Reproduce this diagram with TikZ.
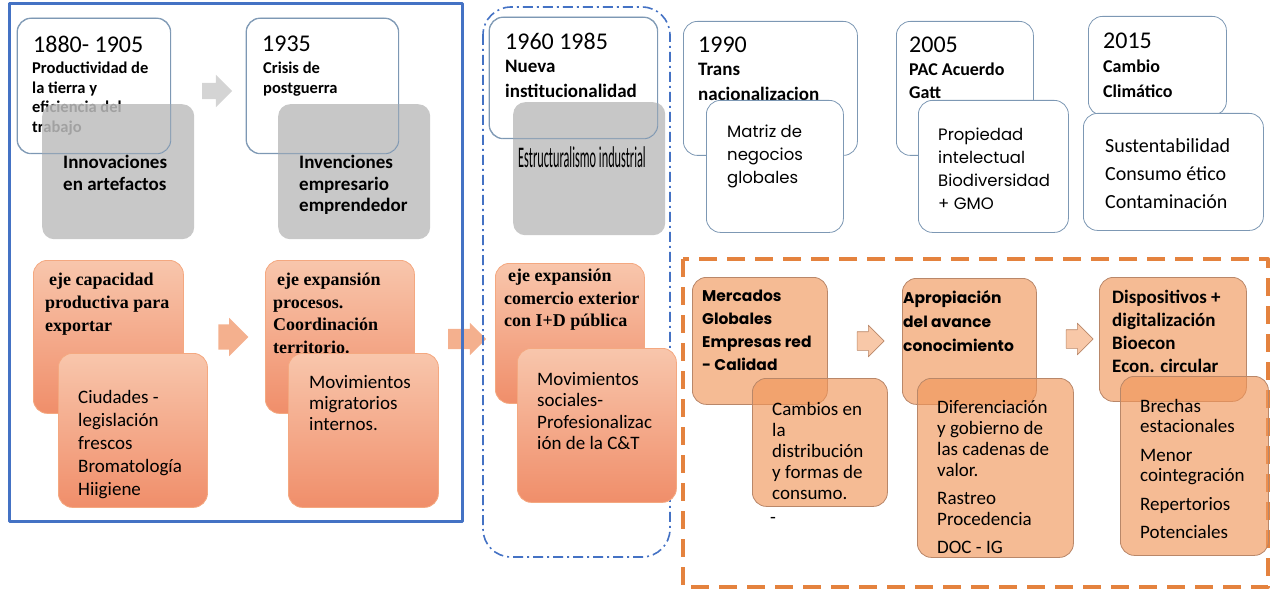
\documentclass[tikz,border=0pt]{standalone}
\usepackage{fontspec}
\usepackage{graphicx}
\setmainfont{Carlito}
\newfontfamily\quickfont{Poppins}
\newfontfamily\camfont{Liberation Serif}
\usetikzlibrary{shapes.arrows}
\definecolor{frameblue}{RGB}{68,114,196}
\definecolor{boxline}{RGB}{125,152,180}
\definecolor{greyfill}{RGB}{190,190,190}
\definecolor{arrowgrey}{RGB}{212,212,212}
\definecolor{salmontop}{RGB}{248,198,172}
\definecolor{salmonbot}{RGB}{240,142,106}
\definecolor{salmonline}{RGB}{244,168,128}
\definecolor{salmonarrow}{RGB}{244,176,142}
\definecolor{orangefill}{RGB}{240,150,90}
\definecolor{orangeline}{RGB}{185,135,105}
\definecolor{orangedash}{RGB}{228,130,62}
\definecolor{arrowpeach}{RGB}{248,200,168}
\newcommand\setfs[2]{\fontsize{#1}{#2}\selectfont}
\tikzset{
  box/.style={anchor=north west, inner sep=0pt, rounded corners=14pt},
  wbox/.style={box, draw=boxline, fill=white, line width=0.8pt},
  wline/.style={boxline, line width=0.8pt, rounded corners=14pt},
  gbox/.style={box, fill=greyfill, fill opacity=0.85, rounded corners=12pt},
  sbox/.style={box, draw=salmonline, top color=salmontop, bottom color=salmonbot, line width=0.8pt},
  obox/.style={box, draw=orangeline, fill=orangefill, fill opacity=0.65, line width=0.8pt},
  txt/.style={anchor=north west, inner sep=0pt, align=left, text=black},
  yeartxt/.style={txt, font=\setfs{24}{28}},
  blockarrow/.style={single arrow, inner xsep=0pt, single arrow head indent=0pt},
}
\begin{document}
\begin{tikzpicture}[x=1pt, y=-1pt, line join=round]
\useasboundingbox (0,0) rectangle (1275,591);
% first period: 1880 - 1935
\node[wbox, minimum width=153pt, minimum height=135pt] (A1) at (17,18) {};
\node[yeartxt] (A1y) at (33,36) {1880- 1905};
\node[txt, font={\setfs{16.5}{19.5}\bfseries}] (A1s) at (32,62) {Productividad de\\la tierra y\\eficiencia del\\trabajo};
\node[gbox, minimum width=152pt, minimum height=135pt] (G1) at (42,104) {};
\draw[wline] (A1.north west) rectangle (A1.south east);
\node[txt, font={\setfs{19}{22}\bfseries}] (G1t) at (63,155) {Innovaciones\\en artefactos};
\node[blockarrow, fill=arrowgrey, inner ysep=8pt, single arrow head extend=8pt, minimum height=30pt] (ar1) at (213,91) {};
\node[wbox, minimum width=152pt, minimum height=135pt] (A2) at (246,18) {};
\node[yeartxt] (A2y) at (262,36) {1935};
\node[txt, font={\setfs{16.5}{19.5}\bfseries}] (A2s) at (263,62) {Crisis de\\postguerra};
\node[gbox, minimum width=152pt, minimum height=135pt] (G2) at (278,104) {};
\draw[wline] (A2.north west) rectangle (A2.south east);
\node[txt, font={\setfs{19}{21.5}\bfseries}] (G2t) at (299,155) {Invenciones\\empresario\\emprendedor};
\node[sbox, minimum width=150pt, minimum height=153pt] (S1) at (33,260) {};
\node[txt, font={\setfs{18}{23}\camfont\bfseries}] (S1t) at (45,273) {\hspace{4pt}eje capacidad\\productiva para\\exportar};
\node[sbox, minimum width=149pt, minimum height=154pt] (S1b) at (58,353) {};
\node[txt, font=\setfs{19}{23}] (S1bt) at (78,390) {Ciudades -\\legislación\\frescos\\Bromatología\\Hiigiene};
\node[blockarrow, fill=salmonarrow, inner ysep=12.5pt, single arrow head extend=6.5pt, minimum height=30pt] (ar2) at (227,337) {};
\node[sbox, minimum width=149pt, minimum height=153pt] (S2) at (265,260) {};
\node[txt, font={\setfs{18}{22.5}\camfont\bfseries}] (S2t) at (273,273) {\hspace{4pt}eje expansión\\procesos.\\Coordinación\\territorio.};
\node[sbox, minimum width=150pt, minimum height=154pt] (S2b) at (288,353) {};
\node[txt, font=\setfs{19}{21}] (S2bt) at (309,375) {Movimientos\\migratorios\\internos.};
\node[blockarrow, fill=salmonarrow, inner ysep=10pt, single arrow head extend=6pt, minimum height=38pt] (ar3) at (462,339) {};
\draw[frameblue, line width=3pt] (9,4) rectangle (462,521);
% second period: 1960 - 1985
\draw[frameblue, line width=1.6pt, rounded corners=28pt, dash pattern=on 10pt off 4pt on 2pt off 4pt] (483,7) rectangle (670,557);
\node[wbox, minimum width=168pt, minimum height=121pt] (A3) at (489,17) {};
\node[yeartxt] (A3y) at (505,33) {1960 1985};
\node[txt, font={\setfs{19}{25}\bfseries}] (A3s) at (505,60) {Nueva\\institucionalidad};
\node[gbox, minimum width=152pt, minimum height=133pt] (G3) at (513,102) {};
\draw[wline] (A3.north west) rectangle (A3.south east);
\node[txt, font=\setfs{30}{32}] (G3t) at (518,146) {\scalebox{0.41}[1]{Estructuralismo industrial}};
\node[sbox, minimum width=149pt, minimum height=140pt] (S3) at (495,263) {};
\node[txt, font={\setfs{18}{22.5}\camfont\bfseries}] (S3t) at (504,269) {\hspace{4pt}eje expansión\\comercio exterior\\con I+D pública};
\node[sbox, minimum width=159pt, minimum height=154pt] (S3b) at (517,348) {};
\node[txt, font=\setfs{19}{21.5}] (S3bt) at (537,372) {Movimientos\\sociales-\\Profesionalizac\\ión de la C\&T};
% later periods: 1990 - 2015
\node[wbox, minimum width=174pt, minimum height=134pt] (A4) at (683,21) {};
\node[yeartxt] (A4y) at (698,37) {1990};
\node[txt, font={\setfs{19}{25}\bfseries}] (A4s) at (698,63) {Trans\\nacionalizacion};
\node[wbox, minimum width=137pt, minimum height=132pt] (W4) at (706,100) {};
\node[txt, font={\setfs{16.5}{23}\quickfont}] (W4t) at (727,125) {Matriz de\\negocios\\globales};
\node[wbox, minimum width=137pt, minimum height=134pt] (A5) at (896,21) {};
\node[yeartxt] (A5y) at (909,37) {2005};
\node[txt, font={\setfs{18}{23}\bfseries}] (A5s) at (909,63) {PAC Acuerdo\\Gatt};
\node[wbox, minimum width=150pt, minimum height=132pt] (W5) at (918,100) {};
\node[txt, font={\setfs{16.5}{23}\quickfont}] (W5t) at (938,128) {Propiedad\\intelectual\\Biodiversidad\\+ GMO};
\node[wbox, minimum width=138pt, minimum height=99pt] (A6) at (1088,16) {};
\node[yeartxt] (A6y) at (1103,33) {2015};
\node[txt, font={\setfs{18}{25}\bfseries}] (A6s) at (1103,60) {Cambio\\Climático};
\node[wbox, minimum width=180pt, minimum height=117pt] (W6) at (1083,113) {};
\node[txt, font=\setfs{20}{28}] (W6t) at (1105,138) {Sustentabilidad\\Consumo ético\\Contaminación};
\draw[orangedash, line width=4pt, dash pattern=on 18pt off 10pt] (683,259) rectangle (1268,587);
\node[obox, minimum width=135pt, minimum height=127pt] (O1) at (692,277) {};
\node[txt, font={\setfs{15.5}{23}\quickfont\bfseries}] (O1t) at (702,290) {Mercados\\Globales\\Empresas red\\- Calidad};
\node[obox, minimum width=135pt, minimum height=128pt] (O1b) at (752,378) {};
\node[txt, font=\setfs{19}{21}] (O1bt) at (772,402) {Cambios en\\la\\distribución\\y formas de\\consumo.};
\node[font=\setfs{19}{21}, inner sep=0pt] (O1d) at (773,520) {-};
\node[blockarrow, fill=arrowpeach, draw=orangeline, line width=0.6pt, inner ysep=9pt, single arrow head extend=6.5pt, minimum height=27pt] (ar4) at (866,341) {};
\node[obox, minimum width=134pt, minimum height=126pt] (O2) at (902,278) {};
\node[txt, font={\setfs{15.5}{24}\quickfont\bfseries}] (O2t) at (903,290) {Apropiación\\del avance\\conocimiento};
\node[obox, minimum width=156pt, minimum height=179pt] (O2b) at (917,378) {};
\node[txt, font=\setfs{19}{21}] (O2bt) at (937,400) {Diferenciación\\y gobierno de\\las cadenas de\\valor.\\[7pt]Rastreo\\Procedencia\\[7pt]DOC - IG};
\node[blockarrow, fill=arrowpeach, draw=orangeline, line width=0.6pt, inner ysep=9pt, single arrow head extend=6.5pt, minimum height=27pt] (ar5) at (1075,339) {};
\node[obox, minimum width=147pt, minimum height=124pt] (O3) at (1099,277) {};
\node[txt, font={\setfs{19}{23}\bfseries}] (O3t) at (1112,290) {Dispositivos +\\digitalización\\Bioecon\\Econ. circular};
\node[obox, minimum width=148pt, minimum height=179pt] (O3b) at (1120,376) {};
\node[txt, font=\setfs{19}{20.5}] (O3bt) at (1140,399) {Brechas\\estacionales\\[8pt]Menor\\cointegración\\[8pt]Repertorios\\[8pt]Potenciales};
\end{tikzpicture}
\end{document}
